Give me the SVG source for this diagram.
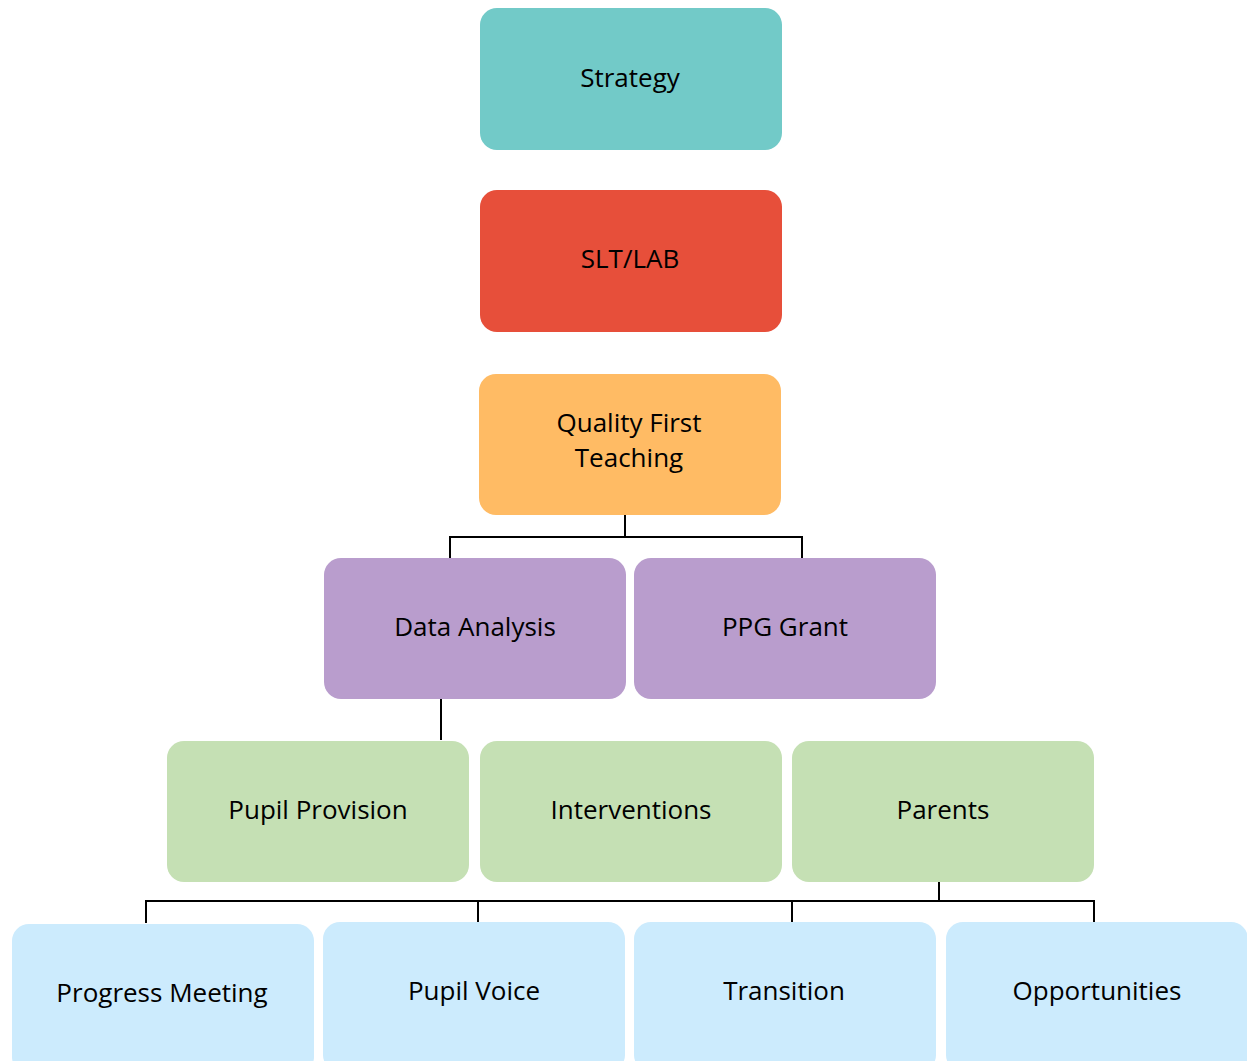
<svg xmlns="http://www.w3.org/2000/svg" width="1247" height="1061" viewBox="0 0 1247 1061">
<style>
.t{font-family:"Open Sans","Liberation Sans",sans-serif;font-size:26px;fill:#000;text-anchor:middle}
.c{stroke:#000;stroke-width:2;fill:none}
.teal{fill:#72CAC8}.red{fill:#E74F3A}.orange{fill:#FFBB64}.purple{fill:#B99DCD}.green{fill:#C5E0B4}.blue{fill:#CCEBFD}
</style>
<rect width="1247" height="1061" fill="#fff"/>
<g id="connectors">
<path class="c" d="M625 515V537M450 558V537H802V558"/>
<path class="c" d="M441 699V740"/>
<path class="c" d="M939 882V901M146 923V901H1094V923M478 901V922M792 901V922"/>
</g>
<g id="strategy"><rect class="teal" x="480" y="8" width="302" height="142" rx="17"/><text class="t" x="630" y="87">Strategy</text></g>
<g id="slt"><rect class="red" x="480" y="190" width="302" height="142" rx="17"/><text class="t" x="630" y="268">SLT/LAB</text></g>
<g id="qft"><rect class="orange" x="479" y="374" width="302" height="141" rx="17"/><text class="t" x="629" y="432">Quality First</text><text class="t" x="629" y="467">Teaching</text></g>
<g id="data-analysis"><rect class="purple" x="324" y="558" width="302" height="141" rx="17"/><text class="t" x="475" y="636">Data Analysis</text></g>
<g id="ppg-grant"><rect class="purple" x="634" y="558" width="302" height="141" rx="17"/><text class="t" x="785" y="636">PPG Grant</text></g>
<g id="pupil-provision"><rect class="green" x="167" y="741" width="302" height="141" rx="17"/><text class="t" x="318" y="819">Pupil Provision</text></g>
<g id="interventions"><rect class="green" x="480" y="741" width="302" height="141" rx="17"/><text class="t" x="631" y="819">Interventions</text></g>
<g id="parents"><rect class="green" x="792" y="741" width="302" height="141" rx="17"/><text class="t" x="943" y="819">Parents</text></g>
<g id="progress-meeting"><rect class="blue" x="12" y="924" width="302" height="150" rx="17"/><text class="t" x="162" y="1002">Progress Meeting</text></g>
<g id="pupil-voice"><rect class="blue" x="323" y="922" width="302" height="150" rx="17"/><text class="t" x="474" y="1000">Pupil Voice</text></g>
<g id="transition"><rect class="blue" x="634" y="922" width="302" height="150" rx="17"/><text class="t" x="784" y="1000">Transition</text></g>
<g id="opportunities"><rect class="blue" x="946" y="922" width="302" height="150" rx="17"/><text class="t" x="1097" y="1000">Opportunities</text></g>
</svg>
